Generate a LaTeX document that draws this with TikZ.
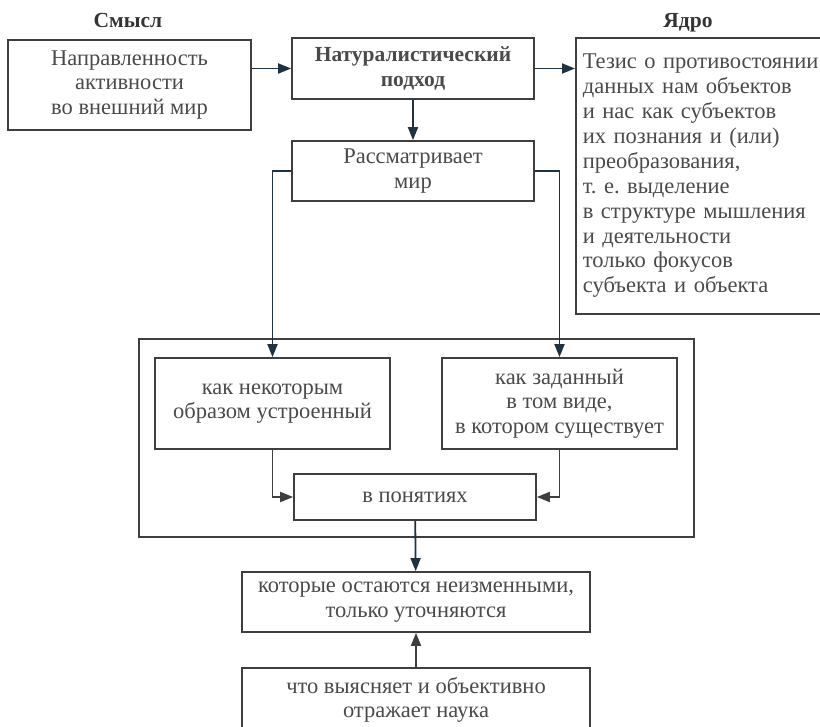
\documentclass[tikz,border=0pt]{standalone}
\usepackage{fontspec}
\setmainfont{Liberation Serif}
\usetikzlibrary{arrows.meta}
\frenchspacing

\definecolor{txtgray}{HTML}{4A4A4A}
\definecolor{linegray}{HTML}{3E3E3E}
\definecolor{arrnavy}{HTML}{1F3242}

\begin{document}
\begin{tikzpicture}[x=1pt, y=-1pt,
    blk/.style={draw=linegray, line width=1.7pt, inner sep=0pt, align=center,
        text=txtgray, font=\fontsize{22.5}{24.5}\selectfont},
    head/.style={anchor=base, text=txtgray!70!black, font=\fontsize{21.5}{24}\selectfont\bfseries},
    arr/.style={draw=arrnavy, line width=1.8pt, -{Triangle[length=13pt,width=10pt]}},
    arrg/.style={arr, draw=linegray}]
        \useasboundingbox (0,0) rectangle (820,727);
        \clip (0,0) rectangle (820,727);
        % headings
        \node[head] (sense) at (128,28) {Смысл};
        \node[head] (coretitle) at (688,28) {Ядро};
        % top row
        \node[blk, minimum width=243pt, minimum height=90pt] (napr) at (129.5,85) {Направленность\\активности\\во внешний мир};
        \node[blk, minimum width=242pt, minimum height=61pt, font=\fontsize{21.5}{24.5}\selectfont\bfseries] (natur) at (413,68.5) {Натуралистический\\подход};
        \node[blk, anchor=north west, align=left, text width=242pt, inner xsep=7pt, minimum height=276pt,
            font=\fontsize{22.5}{24.9}\selectfont] (core) at (575,37) {Тезис о противостоянии\\данных нам объектов\\и нас как субъектов\\их познания и (или)\\преобразования,\\т. е. выделение\\в структуре мышления\\и деятельности\\только фокусов\\субъекта и объекта};
        \node[blk, minimum width=242pt, minimum height=60pt] (rassm) at (413,171) {Рассматривает\\мир};
        % frame with the two ways
        \node[blk, minimum width=555pt, minimum height=198pt] (frame) at (416.5,438) {};
        \node[blk, minimum width=235pt, minimum height=91pt] (kak1) at (272.5,403.5) {как некоторым\\образом устроенный};
        \node[blk, minimum width=235pt, minimum height=91pt] (kak2) at (559.5,403.5) {как заданный\\в том виде,\\в котором существует};
        \node[blk, minimum width=242pt, minimum height=46pt] (ponyat) at (415,497) {в понятиях};
        % bottom
        \node[blk, minimum width=348pt, minimum height=60pt] (kotorye) at (416,602) {которые остаются неизменными,\\только уточняются};
        \node[blk, minimum width=348pt, minimum height=64pt] (chto) at (416,700) {что выясняет и объективно\\отражает наука};
        % arrows
        \draw[arr] (natur.west -| napr.east) -- (natur.west);
        \draw[arr] (natur.east) -- (natur.east -| core.west);
        \draw[arr] (natur) -- (rassm);
        \draw[arr] (rassm.west) -| (kak1.north);
        \draw[arr] (rassm.east) -| (kak2.north);
        \draw[arrg] (kak1.south) |- (ponyat.west);
        \draw[arrg] (kak2.south) |- (ponyat.east);
        \draw[arr] (ponyat) -- (kotorye);
        \draw[arrg] (chto) -- (kotorye);
\end{tikzpicture}
\end{document}
